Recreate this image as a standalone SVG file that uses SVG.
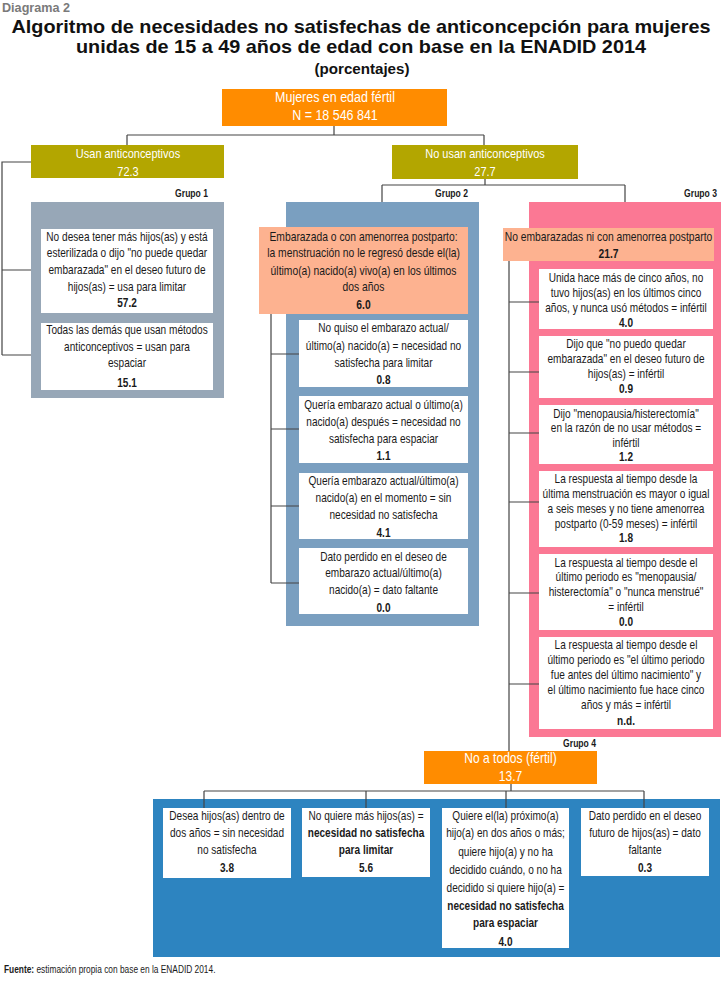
<svg xmlns="http://www.w3.org/2000/svg" width="722" height="986" viewBox="0 0 722 986">
<style>
text{font-family:"Liberation Sans",Arial,sans-serif;font-size:12px;fill:#1a1a1a;text-anchor:middle}
.t{font-weight:bold;fill:#111}
.w{fill:#fff;font-size:13px}
.wl{fill:#fff;font-size:14px}
.b{font-weight:bold}
.g{font-weight:bold;font-size:11px;text-anchor:end}
.box{fill:#fff}
.or{fill:#FF8C00}
.ol{fill:#B3A600}
.sa{fill:#FDB290}
.con{fill:none;stroke:#444;stroke-width:1.2}
</style>
<g id="header">
<text x="2" y="12" class="t" style="text-anchor:start;fill:#7a7a7a;font-size:13px" textLength="68" lengthAdjust="spacingAndGlyphs">Diagrama 2</text>
<text x="361" y="33" class="t" style="font-size:19px" textLength="699" lengthAdjust="spacingAndGlyphs">Algoritmo de necesidades no satisfechas de anticoncepción para mujeres</text>
<text x="361" y="53" class="t" style="font-size:19px" textLength="570" lengthAdjust="spacingAndGlyphs">unidas de 15 a 49 años de edad con base en la ENADID 2014</text>
<text x="362" y="74" class="t" style="font-size:15px" textLength="95" lengthAdjust="spacingAndGlyphs">(porcentajes)</text>
</g>
<g id="panel-g1"><rect x="31" y="202" width="193" height="196" fill="#97A7B7"/><g transform="translate(208 0) scale(0.78 1)"><text x="0" y="197" class="g">Grupo 1</text></g></g>
<g id="panel-g2"><rect x="286" y="202" width="193" height="424" fill="#7A9FC0"/><g transform="translate(468 0) scale(0.78 1)"><text x="0" y="197" class="g">Grupo 2</text></g></g>
<g id="panel-g3"><rect x="529" y="202" width="192" height="535" fill="#FB7894"/><g transform="translate(717 0) scale(0.78 1)"><text x="0" y="197" class="g">Grupo 3</text></g></g>
<g id="panel-g4"><rect x="153" y="799" width="567" height="158" fill="#2D84C0"/><g transform="translate(596 0) scale(0.78 1)"><text x="0" y="747" class="g">Grupo 4</text></g></g>
<g id="connectors" class="con">
<path d="M334,126V135M127,135H484M127,135V145M484,135V145"/>
<path d="M31,162H2V355M2,270H31M2,355H31"/>
<path d="M485,179V185M382,185H625M382,185V202M625,185V202"/>
<path d="M271,314V583M271,354H299M271,429H299M271,506H299M271,583H299"/>
<path d="M509,261V751M509,302H539M509,372H539M509,433H539M509,502H539M509,593H539M509,684H539"/>
<path d="M511,784V791M204,791H644M204,791V808M366,791V808M506,791V808M644,791V808"/>
</g>
<g id="n-mujeres"><rect x="222" y="89" width="225" height="37" class="or"/>
<g transform="translate(335 0) scale(0.89 1)"><text x="0" y="102" class="wl">Mujeres en edad fértil</text><text x="0" y="120" class="wl">N = 18 546 841</text></g></g>
<g id="n-usan"><rect x="31" y="145" width="193" height="33" class="ol"/>
<g transform="translate(128 0) scale(0.845 1)"><text x="0" y="158" class="w">Usan anticonceptivos</text><text x="0" y="176" class="w">72.3</text></g></g>
<g id="n-nousan"><rect x="392" y="145" width="186" height="34" class="ol"/>
<g transform="translate(485 0) scale(0.845 1)"><text x="0" y="158" class="w">No usan anticonceptivos</text><text x="0" y="176" class="w">27.7</text></g></g>
<g id="g1-limitar"><rect x="41" y="229" width="172" height="84" class="box"/>
<g transform="translate(127 0) scale(0.84 1)">
<text x="0" y="241">No desea tener más hijos(as) y está</text>
<text x="0" y="257">esterilizada o dijo "no puede quedar</text>
<text x="0" y="274">embarazada" en el deseo futuro de</text>
<text x="0" y="291">hijos(as) = usa para limitar</text>
<text x="0" y="307" class="b">57.2</text></g></g>
<g id="g1-espaciar"><rect x="41" y="323" width="172" height="67" class="box"/>
<g transform="translate(127 0) scale(0.84 1)">
<text x="0" y="334">Todas las demás que usan métodos</text>
<text x="0" y="351">anticonceptivos = usan para</text>
<text x="0" y="367">espaciar</text>
<text x="0" y="387" class="b">15.1</text></g></g>
<g id="g2-embarazada"><rect x="259" y="227" width="209" height="87" class="sa"/>
<g transform="translate(363.5 0) scale(0.86 1)">
<text x="0" y="241">Embarazada o con amenorrea postparto:</text>
<text x="0" y="257">la menstruación no le regresó desde el(la)</text>
<text x="0" y="275">último(a) nacido(a) vivo(a) en los últimos</text>
<text x="0" y="291">dos años</text>
<text x="0" y="309" class="b">6.0</text></g></g>
<g id="g2-a"><rect x="299" y="320" width="169" height="67" class="box"/>
<g transform="translate(383.5 0) scale(0.84 1)">
<text x="0" y="332">No quiso el embarazo actual/</text>
<text x="0" y="350">último(a) nacido(a) = necesidad no</text>
<text x="0" y="367">satisfecha para limitar</text>
<text x="0" y="384" class="b">0.8</text></g></g>
<g id="g2-b"><rect x="299" y="396" width="169" height="67" class="box"/>
<g transform="translate(383.5 0) scale(0.84 1)">
<text x="0" y="409">Quería embarazo actual o último(a)</text>
<text x="0" y="426">nacido(a) después = necesidad no</text>
<text x="0" y="443">satisfecha para espaciar</text>
<text x="0" y="460" class="b">1.1</text></g></g>
<g id="g2-c"><rect x="299" y="473" width="169" height="66" class="box"/>
<g transform="translate(383.5 0) scale(0.84 1)">
<text x="0" y="485">Quería embarazo actual/último(a)</text>
<text x="0" y="502">nacido(a) en el momento = sin</text>
<text x="0" y="519">necesidad no satisfecha</text>
<text x="0" y="537" class="b">4.1</text></g></g>
<g id="g2-d"><rect x="299" y="548" width="169" height="66" class="box"/>
<g transform="translate(383.5 0) scale(0.84 1)">
<text x="0" y="561">Dato perdido en el deseo de</text>
<text x="0" y="577">embarazo actual/último(a)</text>
<text x="0" y="594">nacido(a) = dato faltante</text>
<text x="0" y="612" class="b">0.0</text></g></g>
<g id="g3-noembarazadas"><rect x="503" y="228" width="211" height="33" class="sa"/>
<g transform="translate(608.5 0) scale(0.86 1)">
<text x="0" y="241">No embarazadas ni con amenorrea postparto</text>
<text x="0" y="258" class="b">21.7</text></g></g>
<g id="g3-a"><rect x="539" y="269" width="174" height="60" class="box"/>
<g transform="translate(626 0) scale(0.84 1)">
<text x="0" y="282">Unida hace más de cinco años, no</text>
<text x="0" y="297">tuvo hijos(as) en los últimos cinco</text>
<text x="0" y="312">años, y nunca usó métodos = infértil</text>
<text x="0" y="327" class="b">4.0</text></g></g>
<g id="g3-b"><rect x="539" y="336" width="174" height="62" class="box"/>
<g transform="translate(626 0) scale(0.84 1)">
<text x="0" y="348">Dijo que "no puedo quedar</text>
<text x="0" y="363">embarazada" en el deseo futuro de</text>
<text x="0" y="378">hijos(as) = infértil</text>
<text x="0" y="393" class="b">0.9</text></g></g>
<g id="g3-c"><rect x="539" y="405" width="174" height="59" class="box"/>
<g transform="translate(626 0) scale(0.84 1)">
<text x="0" y="418">Dijo "menopausia/histerectomía"</text>
<text x="0" y="432">en la razón de no usar métodos =</text>
<text x="0" y="447">infértil</text>
<text x="0" y="461" class="b">1.2</text></g></g>
<g id="g3-d"><rect x="539" y="471" width="174" height="76" class="box"/>
<g transform="translate(626 0) scale(0.84 1)">
<text x="0" y="483">La respuesta al tiempo desde la</text>
<text x="0" y="498">última menstruación es mayor o igual</text>
<text x="0" y="513">a seis meses y no tiene amenorrea</text>
<text x="0" y="528">postparto (0-59 meses) = infértil</text>
<text x="0" y="542" class="b">1.8</text></g></g>
<g id="g3-e"><rect x="539" y="554" width="174" height="76" class="box"/>
<g transform="translate(626 0) scale(0.84 1)">
<text x="0" y="567">La respuesta al tiempo desde el</text>
<text x="0" y="581">último periodo es "menopausia/</text>
<text x="0" y="596">histerectomía" o "nunca menstrué"</text>
<text x="0" y="611">= infértil</text>
<text x="0" y="626" class="b">0.0</text></g></g>
<g id="g3-f"><rect x="539" y="637" width="174" height="92" class="box"/>
<g transform="translate(626 0) scale(0.84 1)">
<text x="0" y="649">La respuesta al tiempo desde el</text>
<text x="0" y="664">último periodo es "el último periodo</text>
<text x="0" y="679">fue antes del último nacimiento" y</text>
<text x="0" y="694">el último nacimiento fue hace cinco</text>
<text x="0" y="709">años y más = infértil</text>
<text x="0" y="725" class="b">n.d.</text></g></g>
<g id="g4-notodos"><rect x="424" y="751" width="173" height="33" class="or"/>
<g transform="translate(510.5 0) scale(0.86 1)">
<text x="0" y="763" class="wl">No a todos (fértil)</text>
<text x="0" y="781" class="wl">13.7</text></g></g>
<g id="g4-a"><rect x="163" y="808" width="128" height="70" class="box"/>
<g transform="translate(227 0) scale(0.84 1)">
<text x="0" y="820">Desea hijos(as) dentro de</text>
<text x="0" y="837">dos años = sin necesidad</text>
<text x="0" y="854">no satisfecha</text>
<text x="0" y="872" class="b">3.8</text></g></g>
<g id="g4-b"><rect x="302" y="808" width="128" height="69" class="box"/>
<g transform="translate(366 0) scale(0.84 1)">
<text x="0" y="820">No quiere más hijos(as) =</text>
<text x="0" y="837" class="b">necesidad no satisfecha</text>
<text x="0" y="854" class="b">para limitar</text>
<text x="0" y="872" class="b">5.6</text></g></g>
<g id="g4-c"><rect x="442" y="808" width="127" height="140" class="box"/>
<g transform="translate(505.5 0) scale(0.84 1)">
<text x="0" y="820">Quiere el(la) próximo(a)</text>
<text x="0" y="837">hijo(a) en dos años o más;</text>
<text x="0" y="856">quiere hijo(a) y no ha</text>
<text x="0" y="874">decidido cuándo, o no ha</text>
<text x="0" y="892">decidido si quiere hijo(a) =</text>
<text x="0" y="910" class="b">necesidad no satisfecha</text>
<text x="0" y="927" class="b">para espaciar</text>
<text x="0" y="946" class="b">4.0</text></g></g>
<g id="g4-d"><rect x="581" y="808" width="128" height="68" class="box"/>
<g transform="translate(645 0) scale(0.84 1)">
<text x="0" y="820">Dato perdido en el deseo</text>
<text x="0" y="837">futuro de hijos(as) =  dato</text>
<text x="0" y="854">faltante</text>
<text x="0" y="872" class="b">0.3</text></g></g>
<g id="footer"><g transform="translate(4 0) scale(0.76 1)"><text x="0" y="973" style="text-anchor:start;font-size:11px"><tspan class="b">Fuente:</tspan> estimación propia con base en la ENADID 2014.</text></g></g>
</svg>
